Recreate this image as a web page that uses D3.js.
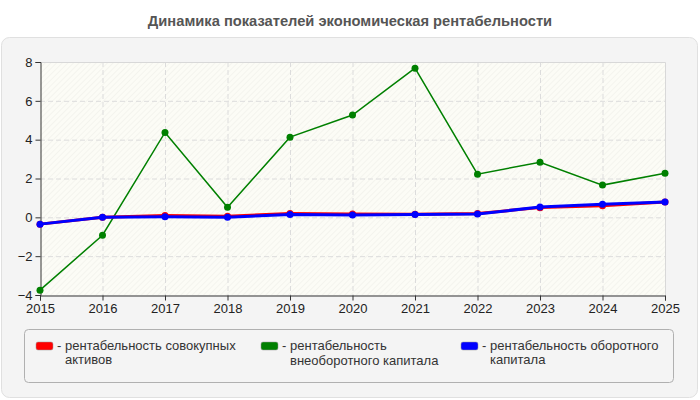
<!DOCTYPE html>
<html>
<head>
<meta charset="utf-8">
<script src="https://cdn.jsdelivr.net/npm/d3@7"></script>
<style>
  body { margin: 0; background: #fff; }
  text { font-family: "Liberation Sans Narrow", "Arial Narrow", "Liberation Sans", sans-serif; }
</style>
</head>
<body>
<div id="chart"></div>
<script>
// data
var years = [2015, 2016, 2017, 2018, 2019, 2020, 2021, 2022, 2023, 2024, 2025];
var totalAssets = [-0.35, 0.0, 0.1, 0.06, 0.2, 0.17, 0.16, 0.2, 0.5, 0.6, 0.79];
var fixedCapital = [-3.75, -0.92, 4.37, 0.52, 4.13, 5.27, 7.68, 2.22, 2.84, 1.66, 2.27];
var workingCapital = [-0.35, 0.0, 0.03, 0.0, 0.15, 0.12, 0.14, 0.17, 0.53, 0.68, 0.79];
var yTicks = [-4, -2, 0, 2, 4, 6, 8];

var series = [
    { name: ["рентабельность совокупных", "активов"], color: "#ff0000", values: totalAssets, width: 3, lx: 36, gap: 14 },
    { name: ["рентабельность", "внеоборотного капитала"], color: "#008000", values: fixedCapital, width: 1.5, lx: 261, gap: 15 },
    { name: ["рентабельность оборотного", "капитала"], color: "#0000ff", values: workingCapital, width: 3, lx: 461, gap: 14 }
];

var width = 700, height = 400;
var svg = d3.select("#chart").append("svg")
    .attr("width", width)
    .attr("height", height);

// title
svg.append("text")
    .attr("x", 350).attr("y", 26)
    .attr("text-anchor", "middle")
    .style("font-size", "14.7px")
    .style("font-weight", "bold")
    .style("fill", "#555")
    .text("Динамика показателей экономическая рентабельности");

// outer panel
svg.append("rect")
    .attr("x", 1.5).attr("y", 37.5)
    .attr("width", 696).attr("height", 360)
    .attr("rx", 8)
    .style("fill", "#f4f4f4")
    .style("stroke", "#e0e0e0");

var x = d3.scaleLinear().domain([2015, 2025]).range([40, 665]);
var y = d3.scaleLinear().domain([-4, 8]).range([295, 62]);

// hatch pattern for plot area
var defs = svg.append("defs");
var pat = defs.append("pattern")
    .attr("id", "hatch")
    .attr("patternUnits", "userSpaceOnUse")
    .attr("width", 4).attr("height", 4)
    .attr("patternTransform", "rotate(45)");
pat.append("rect").attr("width", 4).attr("height", 4).style("fill", "#fcfcf6");
pat.append("line")
    .attr("x1", 0).attr("y1", 0).attr("x2", 0).attr("y2", 4)
    .style("stroke", "#ececE6").style("stroke-width", 1);

svg.append("rect")
    .attr("x", x(2015)).attr("y", y(8))
    .attr("width", x(2025) - x(2015))
    .attr("height", y(-4) - y(8))
    .style("fill", "url(#hatch)");

// grid
svg.append("g").selectAll("line")
    .data(yTicks.slice(1, -1))
    .enter().append("line")
    .attr("x1", x(2015)).attr("x2", x(2025))
    .attr("y1", function (d) { return y(d) + 0.5; })
    .attr("y2", function (d) { return y(d) + 0.5; })
    .style("stroke", "#dcdcdc")
    .style("stroke-dasharray", "5,3");

svg.append("g").selectAll("line")
    .data(years.slice(1, -1))
    .enter().append("line")
    .attr("y1", y(8)).attr("y2", y(-4))
    .attr("x1", function (d) { return x(d) + 0.5; })
    .attr("x2", function (d) { return x(d) + 0.5; })
    .style("stroke", "#dcdcdc")
    .style("stroke-dasharray", "5,3");

// plot border top/right
svg.append("path")
    .attr("d", "M" + x(2015) + "," + (y(8) + 0.5) + "H" + (x(2025) + 0.5) + "V" + y(-4))
    .style("fill", "none")
    .style("stroke", "#d8d8d8");

// axes
var xAxis = svg.append("g")
    .attr("transform", "translate(0," + (y(-4) + 0.5) + ")")
    .call(d3.axisBottom(x).tickValues(years).tickFormat(d3.format("d")).tickSizeOuter(0).tickSize(5));
var yAxis = svg.append("g")
    .attr("transform", "translate(" + (x(2015) + 0.5) + ",0)")
    .call(d3.axisLeft(y).tickValues(yTicks).tickSizeOuter(0).tickSize(5));

[xAxis, yAxis].forEach(function (g) {
    g.select(".domain").style("stroke", "#333");
    g.selectAll(".tick line").style("stroke", "#333");
    g.selectAll(".tick text")
        .style("font-size", "13px")
        .style("fill", "#222")
        .style("font-family", "'Liberation Sans Narrow', 'Arial Narrow', sans-serif");
});
xAxis.selectAll(".tick text").attr("y", 8);

// lines & markers
var line = d3.line()
    .x(function (d, i) { return x(years[i]); })
    .y(function (d) { return y(d); });

var drawOrder = [series[1], series[0], series[2]];
drawOrder.forEach(function (s) {
    svg.append("path")
        .datum(s.values)
        .attr("d", line)
        .style("fill", "none")
        .style("stroke", s.color)
        .style("stroke-width", s.width);
    svg.append("g").selectAll("circle")
        .data(s.values)
        .enter().append("circle")
        .attr("cx", function (d, i) { return x(years[i]); })
        .attr("cy", function (d) { return y(d); })
        .attr("r", 3.5)
        .style("fill", s.color);
});

// legend
svg.append("rect")
    .attr("x", 24.5).attr("y", 329.5)
    .attr("width", 649).attr("height", 53)
    .attr("rx", 4)
    .style("fill", "#f4f4f4")
    .style("stroke", "#b0b0b0");

series.forEach(function (s) {
    var g = svg.append("g");
    g.append("rect")
        .attr("x", s.lx).attr("y", 342)
        .attr("width", 17).attr("height", 8)
        .attr("rx", 2)
        .style("fill", s.color)
        .style("stroke", "#999")
        .style("stroke-width", 0.5);
    g.append("text")
        .attr("x", s.lx + 21).attr("y", 350)
        .style("font-size", "13px")
        .style("fill", "#333")
        .text("-");
    var t = g.append("text")
        .attr("x", s.lx + 29).attr("y", 350)
        .style("font-size", "13px")
        .style("fill", "#333");
    s.name.forEach(function (n, i) {
        t.append("tspan")
            .attr("x", s.lx + 29)
            .attr("dy", i === 0 ? 0 : s.gap)
            .text(n);
    });
});
</script>
</body>
</html>
